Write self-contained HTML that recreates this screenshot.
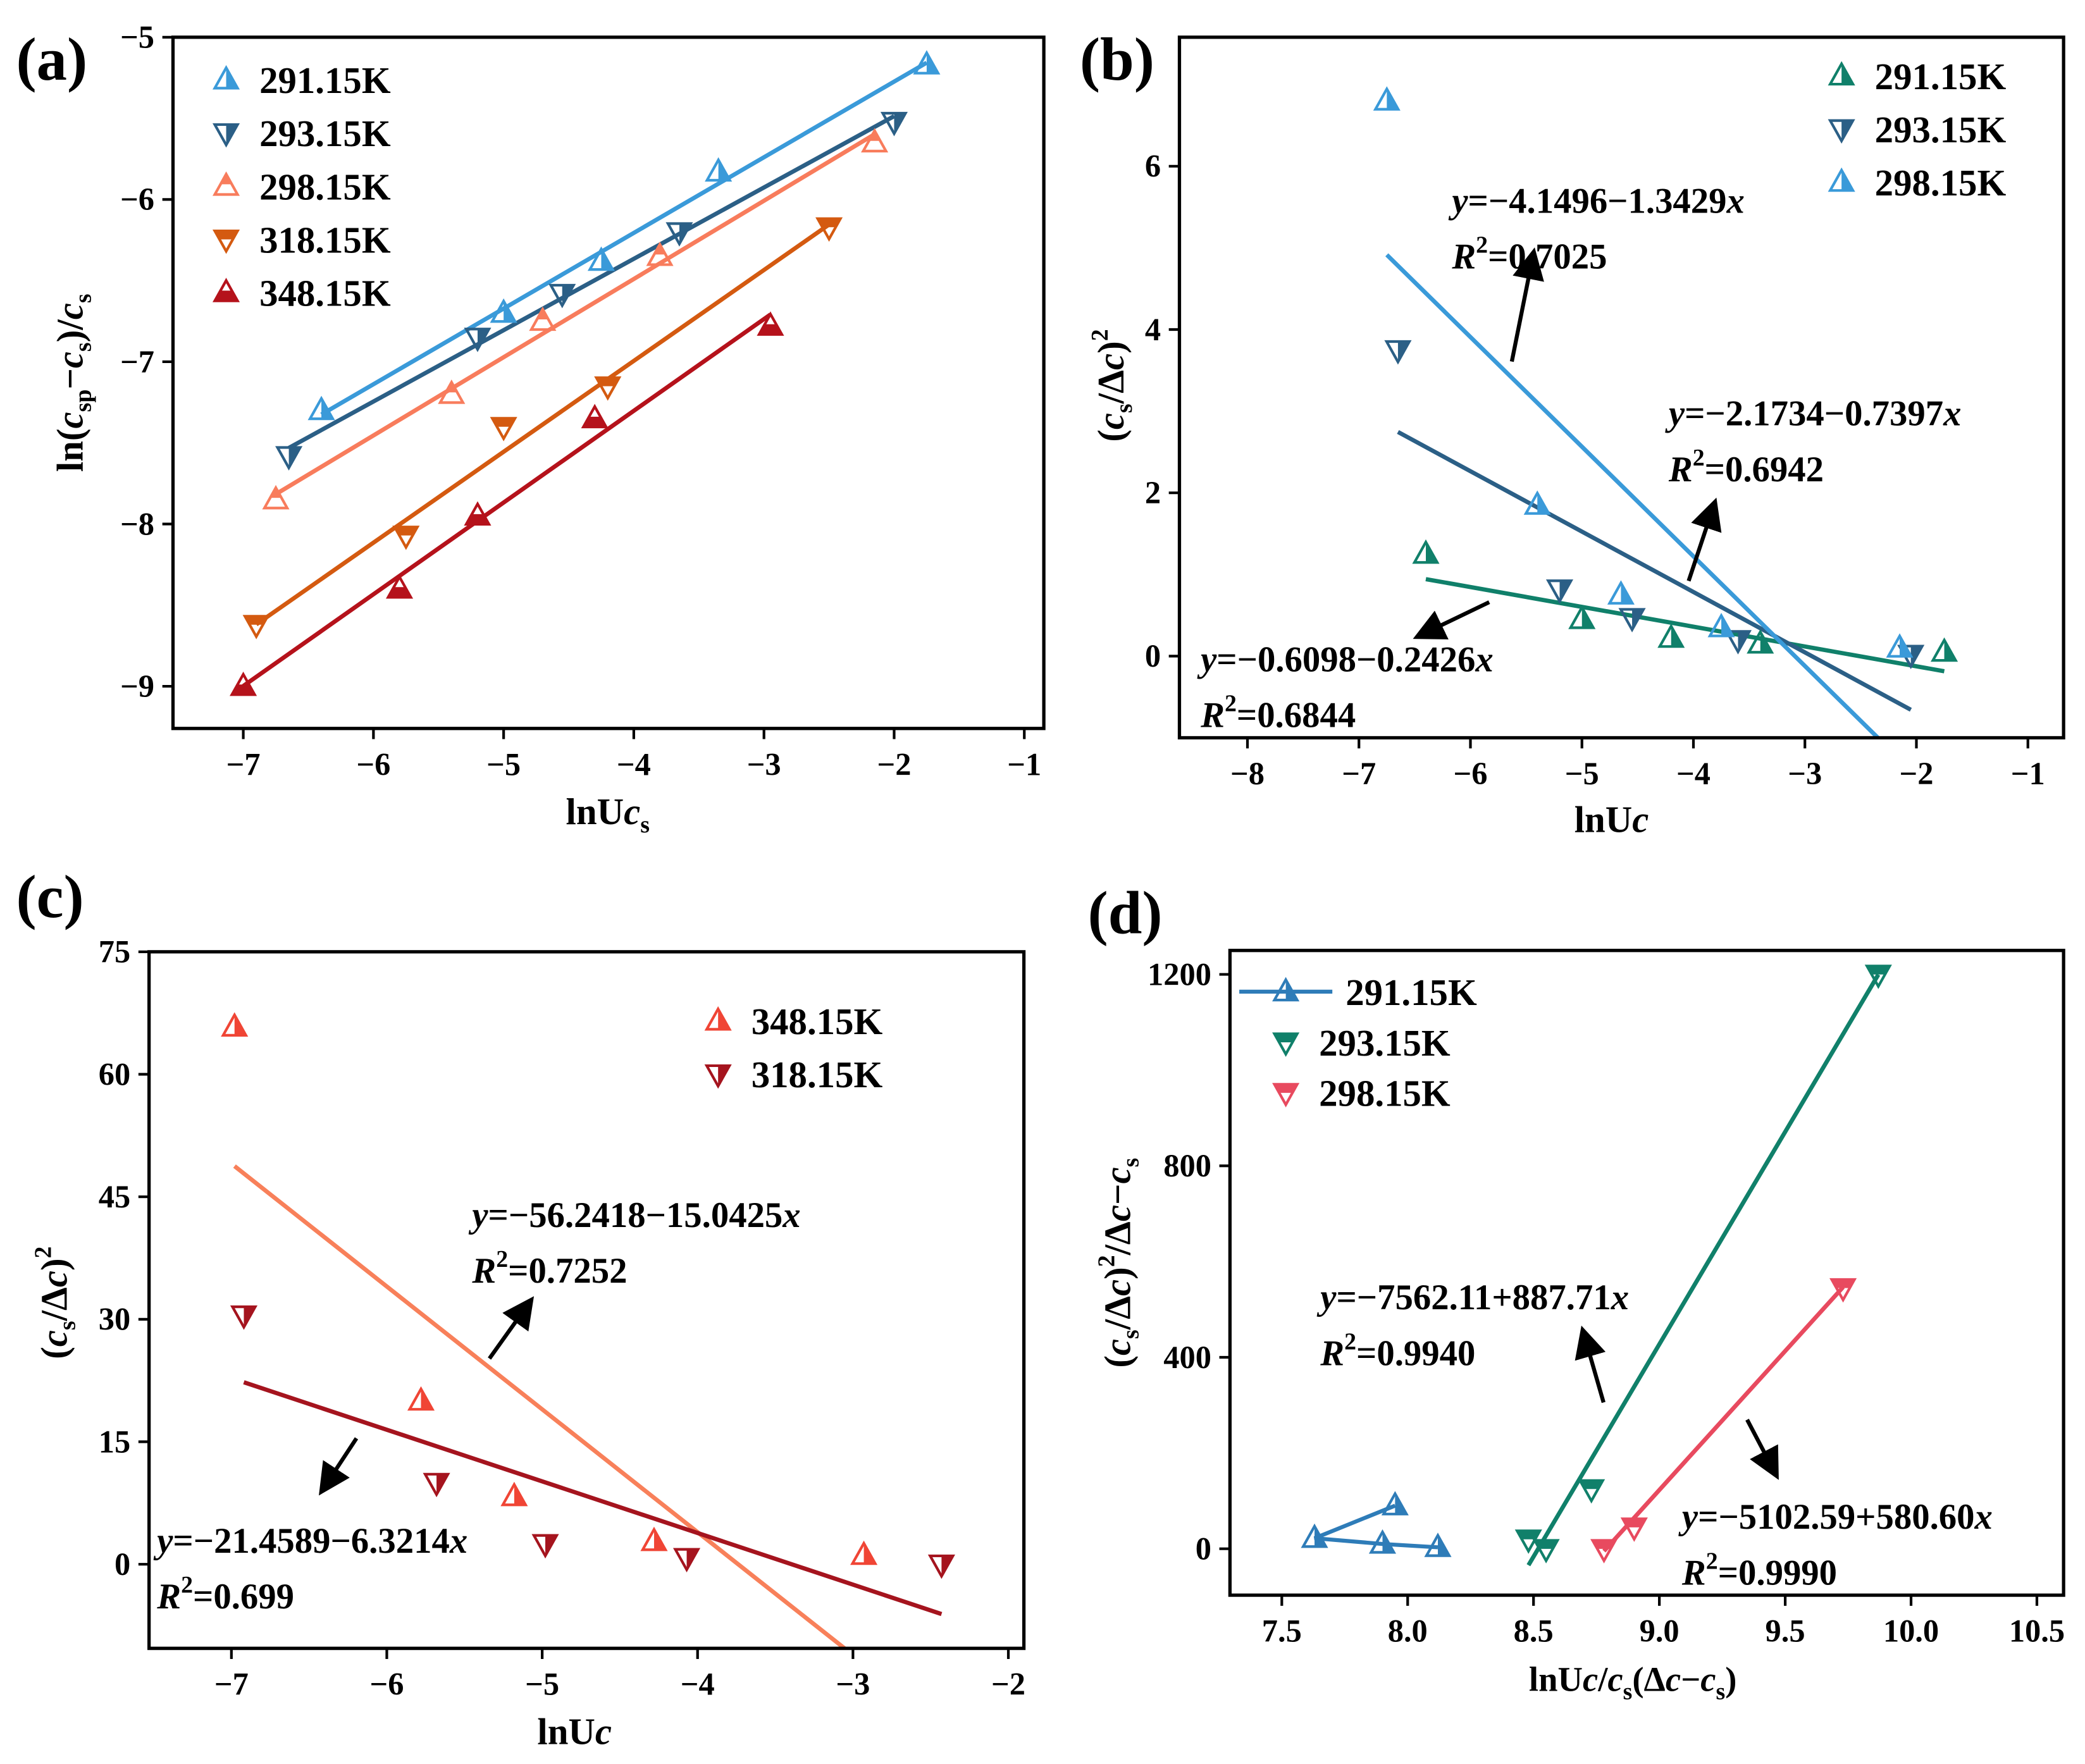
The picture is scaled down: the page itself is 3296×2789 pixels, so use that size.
<!DOCTYPE html>
<html><head><meta charset="utf-8"><style>
html,body{margin:0;padding:0;background:#fff}
svg{display:block;font-family:"Liberation Serif",serif;font-weight:bold}
</style></head><body>
<svg id="fig" xmlns="http://www.w3.org/2000/svg" width="3296" height="2789" viewBox="0 0 1568 1327">
<defs><marker id="ah" markerWidth="8" markerHeight="8" refX="6" refY="4" orient="auto"><path d="M0,0 L8,4 L0,8 z" fill="#000"/></marker></defs>
</svg>
<script>
// ---------- Panel (a) data ----------
const aSeries = ["291.15K","293.15K","298.15K","318.15K","348.15K"];
const aX291 = [-6.4,-5.0,-4.25,-3.35,-1.75], aY291 = [-7.3,-6.7,-6.38,-5.83,-5.17];
const aX293 = [-6.65,-5.2,-4.55,-3.65,-2.0], aY293 = [-7.58,-6.85,-6.58,-6.2,-5.52];
const aX298 = [-6.75,-5.4,-4.7,-3.8,-2.15], aY298 = [-7.85,-7.2,-6.75,-6.35,-5.65];
const aX318 = [-6.9,-5.75,-5.0,-4.2,-2.5], aY318 = [-8.62,-8.07,-7.4,-7.15,-6.17];
const aX348 = [-7.0,-5.8,-5.2,-4.3,-2.95], aY348 = [-9.0,-8.4,-7.95,-7.35,-6.78];
const aXTicks = [-7,-6,-5,-4,-3,-2,-1];
const aYTicks = [-5,-6,-7,-8,-9];
// ---------- Panel (b) data ----------
const bSeries = ["291.15K","293.15K","298.15K"];
const bX291 = [-6.4,-5.0,-4.2,-3.4,-1.75], bY291 = [1.25,0.45,0.22,0.15,0.05];
const bX293 = [-6.65,-5.2,-4.55,-3.6,-2.05], bY293 = [3.75,0.82,0.47,0.2,0.02];
const bX298 = [-6.75,-5.4,-4.65,-3.75,-2.15], bY298 = [6.8,1.85,0.75,0.35,0.1];
const bFitA = [-0.6098,-2.1734,-4.1496], bFitB = [-0.2426,-0.7397,-1.3429];
const bXTicks = [-8,-7,-6,-5,-4,-3,-2,-1];
const bYTicks = [6,4,2,0];
// ---------- Panel (c) data ----------
const cSeries = ["348.15K","318.15K"];
const cX348 = [-6.98,-5.78,-5.18,-4.28,-2.93], cY348 = [65.8,20,8.3,2.8,1.1];
const cX318 = [-6.92,-5.68,-4.98,-4.07,-2.43], cY318 = [30.5,10,2.5,0.8,0];
const cFitA = [-56.2418,-21.4589], cFitB = [-15.0425,-6.3214];
const cXTicks = [-7,-6,-5,-4,-3,-2];
const cYTicks = [75,60,45,30,15,0];
// ---------- Panel (d) data ----------
const dSeries = ["291.15K","293.15K","298.15K"];
const dX291 = [7.95,7.63,7.9,8.12], dY291 = [90,22,10,3];
const dX293 = [8.48,8.55,8.73,9.87], dY293 = [20,0,125,1200];
const dX298 = [8.78,8.9,9.73], dY298 = [0,45,545];
const dFitA = [-7562.11,-5102.59], dFitB = [887.71,580.60];
const dXTicks = [7.5,8.0,8.5,9.0,9.5,10.0,10.5];
const dYTicks = [1200,800,400,0];

const svg = document.getElementById('fig');
const NS = 'http://www.w3.org/2000/svg';
function el(tag, attrs, parent){const e=document.createElementNS(NS,tag);for(const k in attrs)e.setAttribute(k,attrs[k]);(parent||svg).appendChild(e);return e;}
function txt(s,x,y,size,extra,parent){const t=el('text',Object.assign({x:x,y:y,'font-size':size},extra||{}),parent);t.innerHTML=s;return t;}

function axis(px0,px1,py0,py1,d0,d1,r0,r1){
  return {sx:v=>px0+(v-d0)/(d1-d0)*(px1-px0), sy:v=>py1-(v-r0)/(r1-r0)*(py1-py0), px0,px1,py0,py1};
}
function frame(ax,xt,yt,fmtX,fmtY,name){
  const g=el('g',{});
  
  
  el('rect',{x:ax.px0,y:ax.py0,width:ax.px1-ax.px0,height:ax.py1-ax.py0,fill:'none',stroke:'#000','stroke-width':2.5},g);
  xt.forEach(v=>{const x=ax.sx(v);el('line',{x1:x,x2:x,y1:ax.py1,y2:ax.py1+8,stroke:'#000','stroke-width':2},g);
    const t=txt(fmtX(v),x,ax.py1+35,24,{'text-anchor':'middle'},g);
    
    });
  yt.forEach(v=>{const y=ax.sy(v);el('line',{x1:ax.px0-8,x2:ax.px0,y1:y,y2:y,stroke:'#000','stroke-width':2},g);
    const t=txt(fmtY(v),ax.px0-14,y+8,24,{'text-anchor':'end'},g);
    
    });
}
const neg=v=>(v<0?'−':'')+Math.abs(v);
function tri(x,y,up,color,half,parent){
  const s=9;
  const pts= up?[[x,y-s],[x+s*0.95,y+s*0.7],[x-s*0.95,y+s*0.7]]:[[x,y+s],[x+s*0.95,y-s*0.7],[x-s*0.95,y-s*0.7]];
  let hp;
  if(half==='right') hp=[pts[0],pts[1],[x,up?y+s*0.7:y-s*0.7]];
  else if(half==='top'){ if(up) hp=[pts[0],[x+s*0.47,y-s*0.15],[x-s*0.47,y-s*0.15]]; else hp=[[x+s*0.95,y-s*0.7],[x-s*0.95,y-s*0.7],[x-s*0.5,y+0.1],[x+s*0.5,y+0.1]]; }
  else { if(up) hp=[[x+s*0.47,y-s*0.15],[x-s*0.47,y-s*0.15],pts[2],pts[1]]; else hp=[pts[0],[x+s*0.47,y+s*0.15],[x-s*0.47,y+s*0.15]]; }
  const p=el('polygon',{points:hp.map(q=>q.join(',')).join(' '),fill:color},parent);
  el('polygon',{points:pts.map(q=>q.join(',')).join(' '),fill:'none',stroke:color,'stroke-width':2},parent);
  return p;
}
function scatter(ax,xs,ys,up,color,half,name){
  const g=el('g',{});
  
  
  xs.forEach((v,i)=>{const m=tri(ax.sx(v),ax.sy(ys[i]),up,color,half,g);
    
    });
}
function fitLine(ax,a,b,xa,xb,color,name){
  const l=el('line',{x1:ax.sx(xa),y1:ax.sy(a+b*xa),x2:ax.sx(xb),y2:ax.sy(a+b*xb),stroke:color,'stroke-width':3.2},clipG[ax.id]);
  
  
}
function lsq(xs,ys){const n=xs.length;let mx=0,my=0;xs.forEach((x,i)=>{mx+=x;my+=ys[i]});mx/=n;my/=n;let sxy=0,sxx=0;xs.forEach((x,i)=>{sxy+=(x-mx)*(ys[i]-my);sxx+=(x-mx)**2});const b=sxy/sxx;return [my-b*mx,b];}
const clipG={};
function mkClip(ax,id){ax.id=id;const cp=el('clipPath',{id:'cp'+id});
  el('rect',{x:ax.px0,y:ax.py0,width:ax.px1-ax.px0,height:ax.py1-ax.py0},cp);
  clipG[id]=el('g',{'clip-path':'url(#cp'+id+')'});}
function legend(items,x,y,dy,name){
  const g=el('g',{});
  
  
  items.forEach((it,i)=>{
    if(it.line) el('line',{x1:x-35,x2:x+35,y1:y+i*dy,y2:y+i*dy,stroke:it.c,'stroke-width':3},g);
    tri(x,y+i*dy,it.up,it.c,it.h,g);
    const t=txt(it.t,x+(it.line?45:25),y+i*dy+10,28,{},g);
    
    
  });
}
function eq(lines,x,y,name){
  const t=txt(lines[0],x,y,27,{});
  
  
  const r=txt(lines[1],x,y+42,27,{});
  
  
}
function arrow(x1,y1,x2,y2){const a=el('line',{x1,y1,x2,y2,stroke:'#000','stroke-width':3,'marker-end':'url(#ah)'});
  
  }
function plabel(s,x,y){const t=txt(s,x,y,46,{});}
const I=s=>'<tspan font-style="italic">'+s+'</tspan>';
const sub=s=>'<tspan font-size="18" baseline-shift="-6">'+s+'</tspan>';
const sup=s=>'<tspan font-size="18" baseline-shift="12">'+s+'</tspan>';

// ---------- Panel (a) ----------
const A=axis(130,785,28,548,-7.54,-0.85,-9.26,-5);
mkClip(A,'a');
frame(A,aXTicks,aYTicks,neg,neg,'panel-a');
const aC=['#3a9ad9','#2b5f86','#f87c5c','#d45a10','#b5121b'];
const aXs=[aX291,aX293,aX298,aX318,aX348], aYs=[aY291,aY293,aY298,aY318,aY348];
const aUp=[true,false,true,false,true], aH=['right','right','top','top','bottom'];
aXs.forEach((xs,i)=>{const f=lsq(xs,aYs[i]);fitLine(A,f[0],f[1],xs[0],xs[xs.length-1],aC[i],'fit-line-a-'+i);});
aXs.forEach((xs,i)=>scatter(A,xs,aYs[i],aUp[i],aC[i],aH[i],'series-a-'+aSeries[i]));
legend(aSeries.map((t,i)=>({t,c:aC[i],up:aUp[i],h:aH[i]})),170,60,40,'legend-a');
plabel('(a)',12,60);
{const t=txt('lnU'+I('c')+sub('s'),457,620,28,{'text-anchor':'middle'});}
{const t=txt('ln('+I('c')+sub('sp')+'−'+I('c')+sub('s')+')/'+I('c')+sub('s'),0,0,28,{'text-anchor':'middle',transform:'translate(62,288) rotate(-90)'});}

// ---------- Panel (b) ----------
const B=axis(887,1552,28,555,-8.61,-0.68,-1,7.58);
mkClip(B,'b');
frame(B,bXTicks,bYTicks,neg,neg,'panel-b');
const bC=['#10806a','#2b5f86','#3a9ad9'];
const bXs=[bX291,bX293,bX298], bYs=[bY291,bY293,bY298];
const bUp=[true,false,true];
bXs.forEach((xs,i)=>fitLine(B,bFitA[i],bFitB[i],xs[0],xs[xs.length-1],bC[i],'fit-line-b-'+i));
bXs.forEach((xs,i)=>scatter(B,xs,bYs[i],bUp[i],bC[i],'right','series-b-'+bSeries[i]));
legend(bSeries.map((t,i)=>({t,c:bC[i],up:bUp[i],h:'right'})),1385,57,40,'legend-b');
plabel('(b)',812,60);
{const t=txt('lnU'+I('c'),1212,626,28,{'text-anchor':'middle'});}
{const t=txt('('+I('c')+sub('s')+'/Δ'+I('c')+')'+sup('2'),0,0,28,{'text-anchor':'middle',transform:'translate(845,290) rotate(-90)'});}
eq([I('y')+'=−4.1496−1.3429'+I('x'),I('R')+sup('2')+'=0.7025'],1092,160,'fit-b-298');
arrow(1137,272,1153,192);
eq([I('y')+'=−2.1734−0.7397'+I('x'),I('R')+sup('2')+'=0.6942'],1255,320,'fit-b-293');
arrow(1270,437,1289,380);
eq([I('y')+'=−0.6098−0.2426'+I('x'),I('R')+sup('2')+'=0.6844'],903,505,'fit-b-291');
arrow(1120,453,1068,478);

// ---------- Panel (c) ----------
const C=axis(112,770,716,1240,-7.53,-1.9,-10.3,75);
mkClip(C,'c');
frame(C,cXTicks,cYTicks,neg,neg,'panel-c');
const cC=['#f04535','#a5141e'], lC=['#f8805a','#a5141e'];
const cXs=[cX348,cX318], cYs=[cY348,cY318], cUp=[true,false];
cXs.forEach((xs,i)=>fitLine(C,cFitA[i],cFitB[i],xs[0],xs[xs.length-1],lC[i],'fit-line-c-'+i));
cXs.forEach((xs,i)=>scatter(C,xs,cYs[i],cUp[i],cC[i],'right','series-c-'+cSeries[i]));
legend(cSeries.map((t,i)=>({t,c:cC[i],up:cUp[i],h:'right'})),540,768,40,'legend-c');
plabel('(c)',12,690);
{const t=txt('lnU'+I('c'),432,1312,28,{'text-anchor':'middle'});}
{const t=txt('('+I('c')+sub('s')+'/Δ'+I('c')+')'+sup('2'),0,0,28,{'text-anchor':'middle',transform:'translate(50,980) rotate(-90)'});}
eq([I('y')+'=−56.2418−15.0425'+I('x'),I('R')+sup('2')+'=0.7252'],355,923,'fit-c-348');
arrow(368,1022,398,980);
eq([I('y')+'=−21.4589−6.3214'+I('x'),I('R')+sup('2')+'=0.699'],118,1168,'fit-c-318');
arrow(268,1082,243,1120);

// ---------- Panel (d) ----------
const D=axis(925,1552,715,1200,7.294,10.606,-97,1250);
mkClip(D,'d');
frame(D,dXTicks,dYTicks,v=>v.toFixed(1),v=>String(v),'panel-d');
const dC=['#2e7cb8','#10806a','#e84a5f'];
{const p=el('polyline',{points:dX291.map((x,i)=>D.sx(x)+','+D.sy(dY291[i])).join(' '),fill:'none',stroke:dC[0],'stroke-width':3},clipG['d']);
 
 }
fitLine(D,dFitA[0],dFitB[0],dX293[0],dX293[dX293.length-1],dC[1],'fit-line-d-293');
fitLine(D,dFitA[1],dFitB[1],dX298[0],dX298[dX298.length-1],dC[2],'fit-line-d-298');
scatter(D,dX291,dY291,true,dC[0],'right','series-d-291.15K');
scatter(D,dX293,dY293,false,dC[1],'top','series-d-293.15K');
scatter(D,dX298,dY298,false,dC[2],'top','series-d-298.15K');
legend([{t:dSeries[0],c:dC[0],up:true,h:'right',line:true},{t:dSeries[1],c:dC[1],up:false,h:'top'},{t:dSeries[2],c:dC[2],up:false,h:'top'}],967,746,38,'legend-d');
plabel('(d)',818,702);
{const t=txt('lnU'+I('c')+'/'+I('c')+sub('s')+'(Δ'+I('c')+'−'+I('c')+sub('s')+')',1228,1272,26,{'text-anchor':'middle'});}
{const t=txt('('+I('c')+sub('s')+'/Δ'+I('c')+')'+sup('2')+'/Δ'+I('c')+'−'+I('c')+sub('s'),0,0,28,{'text-anchor':'middle',transform:'translate(850,950) rotate(-90)'});}
eq([I('y')+'=−7562.11+887.71'+I('x'),I('R')+sup('2')+'=0.9940'],993,985,'fit-d-293');
arrow(1206,1055,1191,1003);
eq([I('y')+'=−5102.59+580.60'+I('x'),I('R')+sup('2')+'=0.9990'],1265,1150,'fit-d-298');
arrow(1314,1068,1335,1108);
</script>
</body></html>
